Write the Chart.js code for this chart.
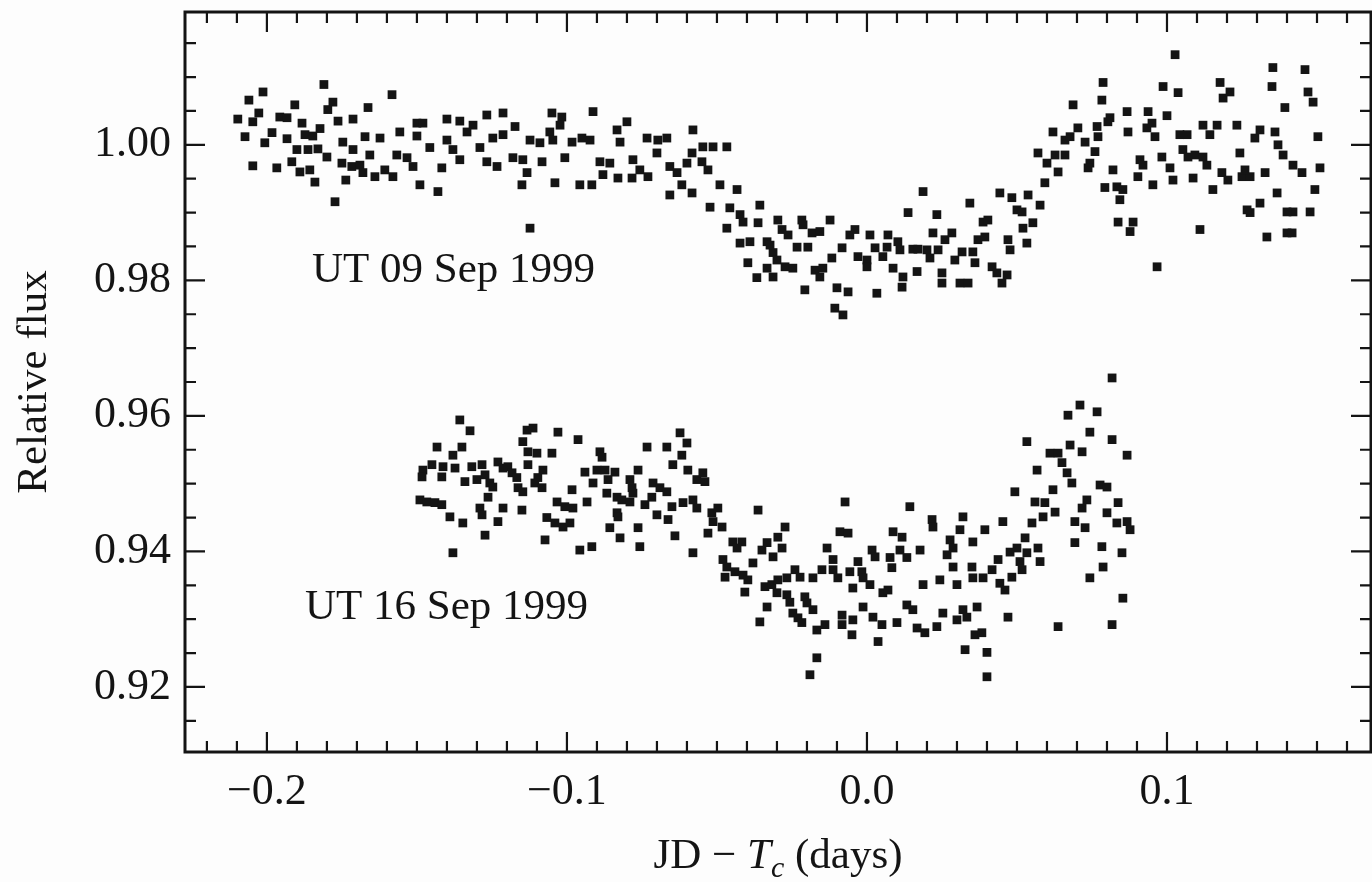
<!DOCTYPE html>
<html>
<head>
<meta charset="utf-8">
<script src="https://cdn.jsdelivr.net/npm/chart.js@4.4.1/dist/chart.umd.min.js"></script>
<style>
  html, body { margin: 0; padding: 0; background: #fdfdfd; }
  #wrap { width: 1372px; height: 882px; }
</style>
</head>
<body>
<div id="wrap"><canvas id="chart" width="1372" height="882"></canvas></div>
<script>
// time from mid-transit (days), relative flux
const sep09 = [
  [-0.2060,1.0066],[-0.2013,1.0078],[-0.1810,1.0089],[-0.1583,1.0074],[-0.2097,1.0038],[-0.2047,1.0034],
  [-0.2027,1.0047],[-0.1957,1.0041],[-0.1933,1.0040],[-0.1907,1.0059],[-0.1883,1.0032],[-0.1780,1.0063],
  [-0.1797,1.0052],[-0.1763,1.0035],[-0.1713,1.0038],[-0.1663,1.0055],[-0.1557,1.0019],[-0.1500,1.0032],
  [-0.1480,1.0032],[-0.1500,1.0013],[-0.1400,1.0038],[-0.1357,1.0035],[-0.1313,1.0029],[-0.1267,1.0044],
  [-0.2073,1.0012],[-0.1983,1.0018],[-0.2007,1.0003],[-0.1933,1.0009],[-0.1873,1.0015],[-0.1847,1.0013],
  [-0.1823,1.0024],[-0.1747,1.0004],[-0.1673,1.0012],[-0.1623,1.0010],[-0.1900,0.9993],[-0.1863,0.9993],
  [-0.1830,0.9994],[-0.1800,0.9982],[-0.1713,0.9993],[-0.1657,0.9985],[-0.1567,0.9985],[-0.1533,0.9981],
  [-0.1513,0.9968],[-0.1457,0.9996],[-0.1400,1.0007],[-0.1380,0.9993],[-0.1333,1.0019],[-0.1290,0.9996],
  [-0.1247,1.0010],[-0.2047,0.9969],[-0.1967,0.9966],[-0.1917,0.9975],[-0.1890,0.9960],[-0.1857,0.9963],
  [-0.1840,0.9945],[-0.1750,0.9973],[-0.1717,0.9968],[-0.1690,0.9970],[-0.1680,0.9959],[-0.1737,0.9948],
  [-0.1640,0.9953],[-0.1607,0.9963],[-0.1580,0.9953],[-0.1490,0.9941],[-0.1430,0.9931],[-0.1773,0.9916],
  [-0.1417,0.9966],[-0.1357,0.9978],[-0.1267,0.9975],[-0.1233,0.9968],
  [-0.1213,1.0047],[-0.1213,1.0015],[-0.1173,1.0027],[-0.1180,0.9981],[-0.1147,0.9978],[-0.1133,0.9959],
  [-0.1150,0.9941],[-0.1123,1.0007],[-0.1090,1.0003],[-0.1083,0.9975],[-0.1050,1.0047],[-0.1017,1.0041],
  [-0.1023,1.0029],[-0.1057,1.0019],[-0.1047,1.0007],[-0.1007,0.9981],[-0.1040,0.9944],[-0.0983,1.0004],
  [-0.0950,1.0010],[-0.0923,1.0007],[-0.0957,0.9941],[-0.0917,0.9941],[-0.0913,1.0049],[-0.0890,0.9975],
  [-0.0857,0.9973],[-0.0833,1.0022],[-0.0800,1.0034],[-0.0823,1.0004],[-0.0880,0.9956],[-0.0830,0.9951],
  [-0.0783,0.9951],[-0.0780,0.9978],[-0.0757,0.9963],[-0.0730,0.9953],[-0.0733,1.0010],[-0.0697,1.0007],
  [-0.0667,1.0010],[-0.0700,0.9988],[-0.0657,0.9968],[-0.0633,0.9959],[-0.0617,0.9941],[-0.0600,0.9973],
  [-0.0580,1.0022],[-0.0583,0.9988],[-0.0657,0.9926],[-0.0583,0.9929],[-0.0550,0.9975],[-0.0530,0.9963],
  [-0.0547,0.9997],[-0.0513,0.9997],[-0.0467,0.9997],[-0.0490,0.9941],[-0.0433,0.9934],[-0.0523,0.9908],
  [-0.0457,0.9907],[-0.0423,0.9897],[-0.0413,0.9886],[-0.0357,0.9911],[-0.0363,0.9885],[-0.0467,0.9877],
  [-0.1123,0.9877],[-0.0423,0.9855],[-0.0390,0.9857],[-0.0333,0.9857],[-0.0313,0.9841],[-0.0397,0.9826],
  [-0.0367,0.9804],[-0.0333,0.9818],[-0.0300,0.9830],
  [-0.0323,0.9852],[-0.0313,0.9805],[-0.0273,0.9820],[-0.0247,0.9818],[-0.0297,0.9889],[-0.0283,0.9875],
  [-0.0263,0.9867],[-0.0217,0.9889],[-0.0213,0.9882],[-0.0183,0.9870],[-0.0157,0.9872],[-0.0123,0.9889],
  [-0.0233,0.9849],[-0.0197,0.9849],[-0.0173,0.9815],[-0.0157,0.9805],[-0.0147,0.9818],[-0.0117,0.9833],
  [-0.0207,0.9786],[-0.0100,0.9789],[-0.0063,0.9783],[-0.0107,0.9759],[-0.0080,0.9749],[-0.0083,0.9848],
  [-0.0057,0.9867],[-0.0040,0.9875],[-0.0030,0.9835],[0.0000,0.9830],[0.0010,0.9867],[0.0027,0.9848],
  [0.0000,0.9820],[0.0033,0.9781],[0.0053,0.9835],[0.0070,0.9867],[0.0067,0.9849],[0.0087,0.9818],
  [0.0103,0.9857],[0.0110,0.9845],[0.0120,0.9805],[0.0117,0.9790],[0.0137,0.9900],[0.0153,0.9846],
  [0.0167,0.9813],[0.0187,0.9931],[0.0170,0.9846],[0.0200,0.9845],[0.0210,0.9833],[0.0220,0.9870],
  [0.0233,0.9897],[0.0237,0.9845],[0.0250,0.9811],[0.0250,0.9796],[0.0260,0.9860],[0.0283,0.9870],
  [0.0293,0.9830],[0.0317,0.9842],[0.0310,0.9796],[0.0337,0.9796],[0.0343,0.9914],[0.0353,0.9842],
  [0.0360,0.9826],[0.0370,0.9860],[0.0393,0.9864],[0.0387,0.9886],[0.0403,0.9889],[0.0417,0.9820],
  [0.0433,0.9811],[0.0450,0.9796],[0.0467,0.9808],[0.0443,0.9929],[0.0483,0.9922],[0.0500,0.9904],
  [0.0520,0.9877],[0.0553,0.9885],[0.0470,0.9860],[0.0477,0.9845],[0.0533,0.9855],[0.0537,0.9926],
  [0.0577,0.9911],[0.0593,0.9944],[0.0600,0.9973],
  [0.1027,1.0133],[0.0517,0.9901],[0.0637,0.9960],[0.0570,0.9988],[0.0627,0.9985],[0.0660,0.9985],
  [0.0620,1.0019],[0.0660,1.0007],[0.0677,1.0012],[0.0687,1.0059],[0.0703,1.0025],[0.0727,1.0004],
  [0.0760,0.9990],[0.0743,0.9973],[0.0737,0.9966],[0.0767,1.0027],[0.0770,1.0012],[0.0787,1.0092],
  [0.0783,1.0066],[0.0810,1.0040],[0.0803,1.0034],[0.0867,1.0049],[0.0870,1.0019],[0.0820,0.9963],
  [0.0793,0.9937],[0.0833,0.9938],[0.0853,0.9934],[0.0843,0.9919],[0.0837,0.9886],[0.0887,0.9886],
  [0.0877,0.9872],[0.0903,0.9953],[0.0910,0.9978],[0.0920,0.9970],[0.0937,1.0049],[0.0933,1.0025],
  [0.0960,1.0012],[0.0950,1.0032],[0.1000,1.0043],[0.0987,1.0086],[0.1037,1.0077],[0.0983,0.9982],
  [0.0953,0.9941],[0.1010,0.9966],[0.1020,0.9948],[0.1043,1.0015],[0.1067,1.0015],[0.1053,0.9993],
  [0.1070,0.9982],[0.1093,0.9985],[0.1087,0.9951],[0.1120,0.9982],[0.1133,0.9970],[0.1120,1.0029],
  [0.1167,1.0029],[0.1143,1.0015],[0.1153,0.9934],[0.1110,0.9875],[0.0967,0.9820],[0.1177,1.0092],
  [0.1187,1.0069],[0.1210,1.0078],[0.1233,1.0029],[0.1183,0.9959],[0.1203,0.9948],[0.1243,0.9988],
  [0.1250,0.9953],[0.1277,0.9953],[0.1260,0.9963],[0.1293,1.0010],[0.1310,1.0022],[0.1360,1.0019],
  [0.1327,0.9959],[0.1353,1.0114],[0.1350,1.0086],[0.1393,1.0055],[0.1370,1.0000],[0.1387,0.9985],
  [0.1420,0.9970],[0.1450,0.9959],[0.1460,1.0111],[0.1470,1.0078],[0.1487,1.0063],[0.1503,1.0012],
  [0.1510,0.9966],[0.1493,0.9934],[0.1477,0.9901],[0.1420,0.9901],[0.1400,0.9901],[0.1367,0.9929],
  [0.1310,0.9914],[0.1277,0.9900],[0.1267,0.9904],[0.1333,0.9864],[0.1400,0.9870],[0.1417,0.9870]
];

const sep16 = [
  [-0.1357,0.9594],[-0.1323,0.9578],[-0.1433,0.9554],[-0.1380,0.9542],[-0.1350,0.9554],[-0.1480,0.9520],
  [-0.1450,0.9528],[-0.1483,0.9510],[-0.1417,0.9510],[-0.1413,0.9525],[-0.1373,0.9523],[-0.1317,0.9525],
  [-0.1283,0.9528],[-0.1340,0.9503],[-0.1300,0.9506],[-0.1273,0.9513],[-0.1257,0.9501],[-0.1230,0.9532],
  [-0.1213,0.9523],[-0.1197,0.9525],[-0.1183,0.9516],[-0.1167,0.9509],[-0.1163,0.9494],[-0.1147,0.9488],
  [-0.1247,0.9495],[-0.1263,0.9480],[-0.1490,0.9476],[-0.1467,0.9473],[-0.1440,0.9472],[-0.1417,0.9469],
  [-0.1290,0.9464],[-0.1283,0.9454],[-0.1213,0.9464],[-0.1150,0.9461],[-0.1390,0.9451],[-0.1347,0.9442],
  [-0.1230,0.9444],[-0.1273,0.9424],[-0.1380,0.9398],[-0.1133,0.9579],[-0.1113,0.9582],[-0.1147,0.9562],
  [-0.1130,0.9547],[-0.1100,0.9545],[-0.1050,0.9545],[-0.1030,0.9576],[-0.0963,0.9565],[-0.1130,0.9528],
  [-0.1080,0.9520],[-0.1097,0.9509],[-0.1107,0.9501],[-0.1083,0.9494],[-0.0983,0.9491],[-0.1033,0.9473],
  [-0.1007,0.9466],[-0.0980,0.9464],[-0.0933,0.9473],[-0.1067,0.9450],[-0.1040,0.9442],[-0.1013,0.9436],
  [-0.0990,0.9442],[-0.1073,0.9417],[-0.0957,0.9402],[-0.0917,0.9407],[-0.0890,0.9547],[-0.0883,0.9539],
  [-0.0940,0.9517],[-0.0900,0.9520],[-0.0873,0.9520],[-0.0840,0.9517],[-0.0913,0.9501],[-0.0863,0.9506],
  [-0.0867,0.9486],[-0.0833,0.9480],[-0.0790,0.9506],[-0.0763,0.9520],[-0.0783,0.9494],[-0.0780,0.9486],
  [-0.0817,0.9476],[-0.0790,0.9473],[-0.0833,0.9457],[-0.0830,0.9451],[-0.0740,0.9469],[-0.0700,0.9454],
  [-0.0733,0.9554],[-0.0667,0.9554],[-0.0623,0.9575],[-0.0600,0.9560],[-0.0617,0.9542],[-0.0647,0.9528],
  [-0.0597,0.9520],[-0.0713,0.9501],[-0.0690,0.9494],[-0.0667,0.9488],[-0.0717,0.9480],[-0.0650,0.9466],
  [-0.0613,0.9472],[-0.0580,0.9476],[-0.0567,0.9506],[-0.0857,0.9435],[-0.0763,0.9435],[-0.0823,0.9420],
  [-0.0757,0.9407],[-0.0663,0.9447],[-0.0640,0.9423],[-0.0580,0.9398],[-0.0567,0.9464],
  [-0.0547,0.9516],[-0.0540,0.9503],[-0.0517,0.9457],[-0.0497,0.9464],[-0.0513,0.9444],[-0.0483,0.9436],
  [-0.0530,0.9427],[-0.0363,0.9461],[-0.0447,0.9414],[-0.0417,0.9414],[-0.0433,0.9405],[-0.0480,0.9388],
  [-0.0467,0.9377],[-0.0473,0.9362],[-0.0440,0.9370],[-0.0413,0.9365],[-0.0397,0.9358],[-0.0407,0.9340],
  [-0.0380,0.9383],[-0.0350,0.9402],[-0.0333,0.9413],[-0.0313,0.9392],[-0.0297,0.9421],[-0.0273,0.9436],
  [-0.0283,0.9405],[-0.0333,0.9318],[-0.0357,0.9296],[-0.0340,0.9348],[-0.0317,0.9351],[-0.0297,0.9358],
  [-0.0267,0.9361],[-0.0300,0.9339],[-0.0267,0.9336],[-0.0257,0.9325],[-0.0240,0.9373],[-0.0223,0.9362],
  [-0.0247,0.9309],[-0.0230,0.9302],[-0.0217,0.9295],[-0.0207,0.9333],[-0.0200,0.9324],[-0.0180,0.9314],
  [-0.0167,0.9284],[-0.0140,0.9292],[-0.0167,0.9243],[-0.0190,0.9218],[-0.0180,0.9361],[-0.0150,0.9373],
  [-0.0133,0.9405],[-0.0113,0.9388],[-0.0113,0.9373],[-0.0097,0.9361],[-0.0073,0.9473],[-0.0090,0.9429],
  [-0.0063,0.9427],[-0.0083,0.9306],[-0.0083,0.9292],[-0.0047,0.9299],[-0.0050,0.9277],[-0.0057,0.9370],
  [-0.0047,0.9346],[-0.0030,0.9385],[-0.0017,0.9370],[-0.0013,0.9361],[0.0010,0.9351],[-0.0013,0.9318],
  [0.0020,0.9303],[0.0017,0.9402],[0.0027,0.9392],[0.0037,0.9267],[0.0050,0.9292],[0.0053,0.9339],
  [0.0070,0.9343],[0.0077,0.9391],[0.0083,0.9376],[0.0087,0.9429],[0.0117,0.9421],[0.0100,0.9295],
  [0.0110,0.9402],[0.0133,0.9391],[0.0143,0.9466],[0.0133,0.9321],[0.0153,0.9314],[0.0177,0.9402],
  [0.0167,0.9287],[0.0193,0.9280],[0.0187,0.9351],[0.0217,0.9447],[0.0220,0.9436],[0.0233,0.9289],
  [0.0243,0.9358],[0.0253,0.9309],[0.0267,0.9395],[0.0277,0.9417],[0.0287,0.9405],[0.0287,0.9377],
  [0.0300,0.9351],[0.0300,0.9299],[0.0320,0.9451],[0.0310,0.9432],[0.0320,0.9314],[0.0333,0.9303],
  [0.0327,0.9255],[0.0350,0.9377],[0.0353,0.9414],[0.0353,0.9361],[0.0367,0.9318],[0.0360,0.9277],
  [0.0383,0.9280],[0.0393,0.9432],[0.0387,0.9361],[0.0400,0.9251],[0.0400,0.9215],
  [0.0817,0.9656],[0.0710,0.9616],[0.0670,0.9601],[0.0767,0.9606],[0.0743,0.9576],[0.0817,0.9565],
  [0.0867,0.9542],[0.0533,0.9562],[0.0610,0.9545],[0.0637,0.9545],[0.0677,0.9557],[0.0717,0.9547],
  [0.0567,0.9520],[0.0650,0.9531],[0.0667,0.9516],[0.0683,0.9501],[0.0620,0.9491],[0.0493,0.9488],
  [0.0560,0.9473],[0.0593,0.9472],[0.0627,0.9458],[0.0587,0.9451],[0.0550,0.9442],[0.0453,0.9444],
  [0.0527,0.9420],[0.0500,0.9405],[0.0477,0.9399],[0.0437,0.9388],[0.0533,0.9398],[0.0570,0.9405],
  [0.0577,0.9385],[0.0510,0.9385],[0.0517,0.9373],[0.0417,0.9373],[0.0483,0.9362],[0.0443,0.9353],
  [0.0460,0.9343],[0.0733,0.9476],[0.0717,0.9464],[0.0693,0.9444],[0.0727,0.9435],[0.0777,0.9498],
  [0.0800,0.9495],[0.0837,0.9472],[0.0800,0.9457],[0.0833,0.9442],[0.0867,0.9444],[0.0877,0.9432],
  [0.0693,0.9413],[0.0783,0.9407],[0.0850,0.9398],[0.0787,0.9377],[0.0743,0.9361],[0.0853,0.9331],
  [0.0470,0.9303],[0.0637,0.9289],[0.0817,0.9292]
];

const xTicks = [-0.2, -0.1, 0.0, 0.1];
const yTicks = [0.92, 0.94, 0.96, 0.98, 1.00];
const xRange = [-0.2273, 0.168];
const yRange = [0.9104, 1.0196];

const notes = [
  { text: 'UT 09 Sep 1999', x: -0.185, y: 0.9798 },
  { text: 'UT 16 Sep 1999', x: -0.1873, y: 0.9300 }
];

const SERIF = "'Liberation Serif', 'Times New Roman', serif";
const INK = '#141414';

function fmtX(v) {
  const s = Math.abs(v).toFixed(1);
  return v < -1e-9 ? '\u2212' + s : s;
}

// frame + inward ticks on all four sides, plus the titles and labels
const frame = {
  id: 'frame',
  afterDraw(chart) {
    const ctx = chart.ctx;
    const a = chart.chartArea;
    const xs = chart.scales.x, ys = chart.scales.y;
    ctx.save();
    ctx.strokeStyle = INK;
    ctx.lineWidth = 3;
    ctx.strokeRect(a.left, a.top, a.right - a.left, a.bottom - a.top);

    ctx.lineWidth = 2.2;
    ctx.beginPath();
    for (let i = Math.ceil(xRange[0] * 100); i <= Math.floor(xRange[1] * 100); i++) {
      const px = xs.getPixelForValue(i / 100);
      const len = i % 10 === 0 ? 20 : 11;
      ctx.moveTo(px, a.bottom); ctx.lineTo(px, a.bottom - len);
      ctx.moveTo(px, a.top); ctx.lineTo(px, a.top + len);
    }
    for (let i = Math.ceil(yRange[0] * 200); i <= Math.floor(yRange[1] * 200); i++) {
      const py = ys.getPixelForValue(i / 200);
      const len = i % 4 === 0 ? 20 : 11;
      ctx.moveTo(a.left, py); ctx.lineTo(a.left + len, py);
      ctx.moveTo(a.right, py); ctx.lineTo(a.right - len, py);
    }
    ctx.stroke();

    ctx.fillStyle = INK;
    ctx.textBaseline = 'alphabetic';
    ctx.textAlign = 'left';
    ctx.font = '43px ' + SERIF;
    notes.forEach(n => {
      ctx.fillText(n.text, xs.getPixelForValue(n.x), ys.getPixelForValue(n.y));
    });

    // x title: JD − T_c (days)
    const cx = (a.left + a.right) / 2;
    const base = 868;
    const parts = [
      { t: 'JD \u2212 ', f: '43px ' + SERIF, dy: 0 },
      { t: 'T', f: 'italic 43px ' + SERIF, dy: 0 },
      { t: 'c', f: 'italic 30px ' + SERIF, dy: 9 },
      { t: ' (days)', f: '43px ' + SERIF, dy: 0 }
    ];
    let w = 0;
    parts.forEach(p => { ctx.font = p.f; p.w = ctx.measureText(p.t).width; w += p.w; });
    let x0 = cx - w / 2;
    parts.forEach(p => {
      ctx.font = p.f;
      ctx.fillText(p.t, x0, base + p.dy);
      x0 += p.w;
    });

    // y title
    ctx.translate(35, (a.top + a.bottom) / 2);
    ctx.rotate(-Math.PI / 2);
    ctx.textAlign = 'center';
    ctx.textBaseline = 'middle';
    ctx.font = '43px ' + SERIF;
    ctx.fillText('Relative flux', 0, 0);
    ctx.restore();
  }
};

const dot = {
  pointStyle: 'rect',
  pointRadius: 6.2,
  pointHoverRadius: 6.2,
  pointBorderWidth: 0,
  pointBackgroundColor: INK,
  showLine: false
};

// no label overhang padding, the frame sits at fixed margins
function noOverhang(s) {
  s.paddingTop = 0; s.paddingBottom = 0; s.paddingLeft = 0; s.paddingRight = 0;
}

new Chart(document.getElementById('chart'), {
  type: 'scatter',
  data: {
    datasets: [
      Object.assign({ label: 'UT 09 Sep 1999', data: sep09.map(p => ({ x: p[0], y: p[1] })) }, dot),
      Object.assign({ label: 'UT 16 Sep 1999', data: sep16.map(p => ({ x: p[0], y: p[1] })) }, dot)
    ]
  },
  options: {
    responsive: false,
    animation: false,
    events: [],
    layout: { autoPadding: false, padding: { top: 12, right: 1, left: 0, bottom: 0 } },
    plugins: { legend: { display: false }, tooltip: { enabled: false } },
    scales: {
      x: {
        type: 'linear',
        min: xRange[0],
        max: xRange[1],
        afterBuildTicks: s => { s.ticks = xTicks.map(v => ({ value: v })); },
        afterFit: s => { s.height = 130; noOverhang(s); },
        grid: { display: false },
        border: { display: false },
        ticks: {
          padding: 6,
          color: INK,
          font: { family: SERIF, size: 44 },
          maxRotation: 0,
          callback: v => fmtX(v)
        }
      },
      y: {
        type: 'linear',
        min: yRange[0],
        max: yRange[1],
        afterBuildTicks: s => { s.ticks = yTicks.map(v => ({ value: v })); },
        afterFit: s => { s.width = 185; noOverhang(s); },
        grid: { display: false },
        border: { display: false },
        ticks: {
          padding: 6,
          color: INK,
          font: { family: SERIF, size: 44 },
          callback: v => v.toFixed(2)
        }
      }
    }
  },
  plugins: [frame]
});
</script>
</body>
</html>
